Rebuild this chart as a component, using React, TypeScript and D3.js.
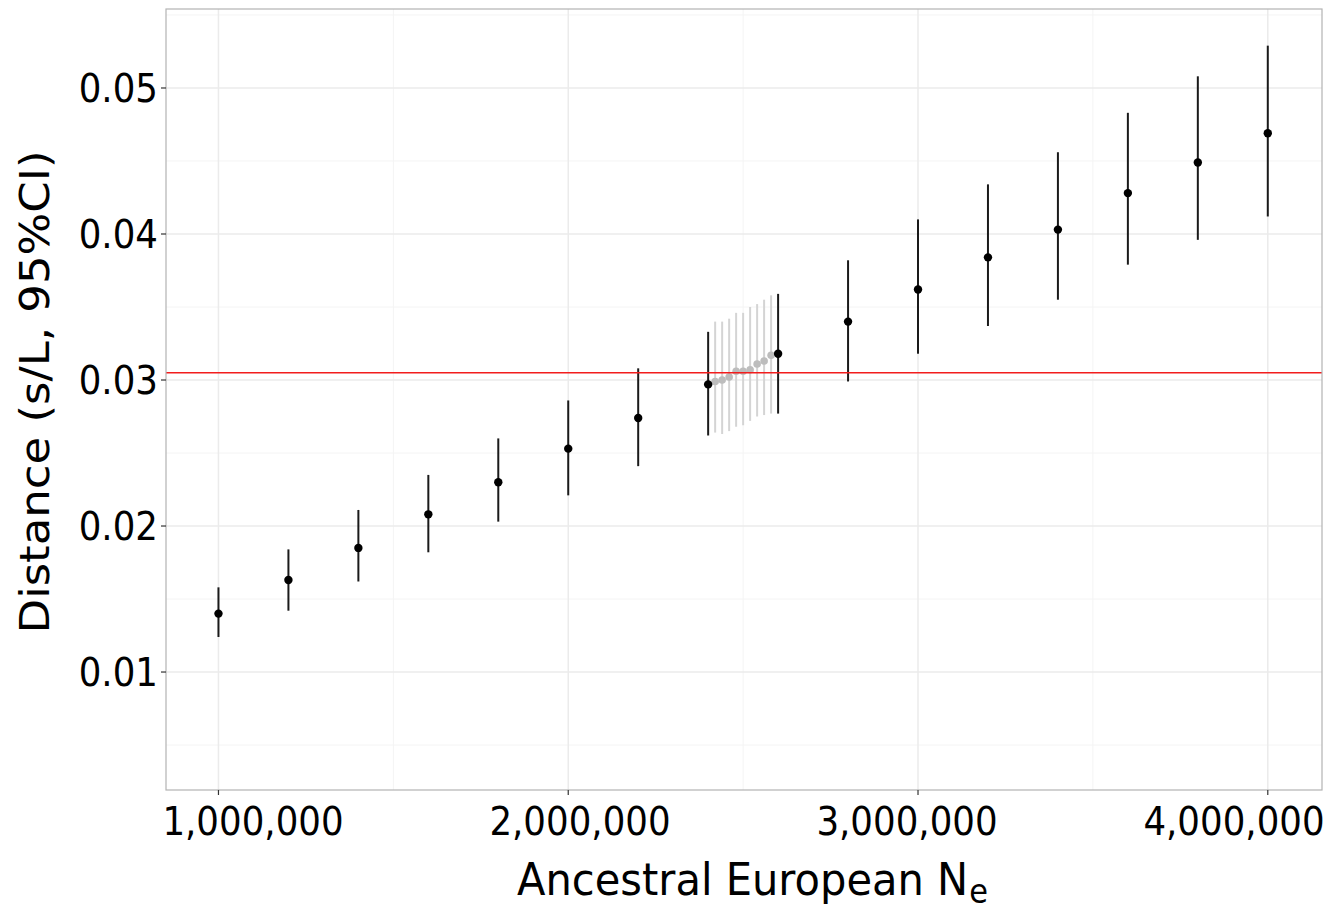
import React, { useEffect, useRef } from "react";
import * as d3 from "d3";

// black estimates (Ne in millions)
const neValues = [1.0, 1.2, 1.4, 1.6, 1.8, 2.0, 2.2, 2.4, 2.6, 2.8, 3.0, 3.2, 3.4, 3.6, 3.8, 4.0];
const distValues = [0.014, 0.0163, 0.0185, 0.0208, 0.023, 0.0253, 0.0274, 0.0297, 0.0318, 0.034, 0.0362, 0.0384, 0.0403, 0.0428, 0.0449, 0.0469];
const lowValues = [0.0124, 0.0142, 0.0162, 0.0182, 0.0203, 0.0221, 0.0241, 0.0262, 0.0277, 0.0299, 0.0318, 0.0337, 0.0355, 0.0379, 0.0396, 0.0412];
const highValues = [0.0158, 0.0184, 0.0211, 0.0235, 0.026, 0.0286, 0.0308, 0.0333, 0.0359, 0.0382, 0.041, 0.0434, 0.0456, 0.0483, 0.0508, 0.0529];

// grey fine grid between 2.4M and 2.6M
const greyNe = [2.42, 2.44, 2.46, 2.48, 2.5, 2.52, 2.54, 2.56, 2.58];
const greyDist = [0.0299, 0.03, 0.0302, 0.0306, 0.0306, 0.0307, 0.0311, 0.0313, 0.0317];
const greyLow = [0.0264, 0.0263, 0.0265, 0.0268, 0.0269, 0.0272, 0.0275, 0.0276, 0.0277];
const greyHigh = [0.034, 0.034, 0.0342, 0.0346, 0.0346, 0.035, 0.0352, 0.0355, 0.0358];

const observed = 0.0305;

const xTicks = [1, 2, 3, 4];
const xTickLabels = ["1,000,000", "2,000,000", "3,000,000", "4,000,000"];
const xMinor = [1.5, 2.5, 3.5];
const yTicks = [0.01, 0.02, 0.03, 0.04, 0.05];
const yTickLabels = ["0.01", "0.02", "0.03", "0.04", "0.05"];
const yMinor = [0.005, 0.015, 0.025, 0.035, 0.045, 0.055];

const FONT = "'DejaVu Sans', sans-serif";
const SQUEEZE = 0.925;

function App() {
  const ref = useRef(null);

  useEffect(() => {
    document.body.style.margin = "0";
    const svg = d3.select(ref.current);
    svg.selectAll("*").remove();

    const panel = { left: 166, right: 1322, top: 9, bottom: 790 };

    const x = d3.scaleLinear().domain([0.85, 4.155]).range([panel.left, panel.right]);
    const xLab = d3.scaleLinear().domain([1, 4]).range([253, 1234]);
    const y = d3.scaleLinear().domain([0.00192, 0.05541]).range([panel.bottom, panel.top]);

    const g = svg.append("g");

    // grid
    g.selectAll("line.xminor")
      .data(xMinor)
      .join("line")
      .attr("x1", (d) => x(d))
      .attr("x2", (d) => x(d))
      .attr("y1", panel.top)
      .attr("y2", panel.bottom)
      .attr("stroke", "#f4f4f4")
      .attr("stroke-width", 1);
    g.selectAll("line.yminor")
      .data(yMinor)
      .join("line")
      .attr("x1", panel.left)
      .attr("x2", panel.right)
      .attr("y1", (d) => y(d))
      .attr("y2", (d) => y(d))
      .attr("stroke", "#f4f4f4")
      .attr("stroke-width", 1);
    g.selectAll("line.xmajor")
      .data(xTicks)
      .join("line")
      .attr("x1", (d) => x(d))
      .attr("x2", (d) => x(d))
      .attr("y1", panel.top)
      .attr("y2", panel.bottom)
      .attr("stroke", "#ebebeb")
      .attr("stroke-width", 1.5);
    g.selectAll("line.ymajor")
      .data(yTicks)
      .join("line")
      .attr("x1", panel.left)
      .attr("x2", panel.right)
      .attr("y1", (d) => y(d))
      .attr("y2", (d) => y(d))
      .attr("stroke", "#ebebeb")
      .attr("stroke-width", 1.5);

    // grey error bars + points
    g.append("g")
      .selectAll("line")
      .data(greyNe)
      .join("line")
      .attr("x1", (d) => x(d))
      .attr("x2", (d) => x(d))
      .attr("y1", (d, i) => y(greyLow[i]))
      .attr("y2", (d, i) => y(greyHigh[i]))
      .attr("stroke", "#d4d4d4")
      .attr("stroke-width", 2);
    g.append("g")
      .selectAll("circle")
      .data(greyNe)
      .join("circle")
      .attr("cx", (d) => x(d))
      .attr("cy", (d, i) => y(greyDist[i]))
      .attr("r", 3.8)
      .attr("fill", "#bdbdbd");

    // black error bars + points
    g.append("g")
      .selectAll("line")
      .data(neValues)
      .join("line")
      .attr("x1", (d) => x(d))
      .attr("x2", (d) => x(d))
      .attr("y1", (d, i) => y(lowValues[i]))
      .attr("y2", (d, i) => y(highValues[i]))
      .attr("stroke", "#1a1a1a")
      .attr("stroke-width", 2);
    g.append("g")
      .selectAll("circle")
      .data(neValues)
      .join("circle")
      .attr("cx", (d) => x(d))
      .attr("cy", (d, i) => y(distValues[i]))
      .attr("r", 4.2)
      .attr("fill", "#000");

    // observed line
    g.append("line")
      .attr("x1", panel.left)
      .attr("x2", panel.right)
      .attr("y1", y(observed))
      .attr("y2", y(observed))
      .attr("stroke", "#f21d1d")
      .attr("stroke-width", 1.6);

    // panel border
    g.append("rect")
      .attr("x", panel.left)
      .attr("y", panel.top)
      .attr("width", panel.right - panel.left)
      .attr("height", panel.bottom - panel.top)
      .attr("fill", "none")
      .attr("stroke", "#b3b3b3")
      .attr("stroke-width", 1.2);

    // ticks
    g.selectAll("line.xt")
      .data(xTicks)
      .join("line")
      .attr("x1", (d) => x(d))
      .attr("x2", (d) => x(d))
      .attr("y1", panel.bottom)
      .attr("y2", panel.bottom + 5)
      .attr("stroke", "#333")
      .attr("stroke-width", 1.2);
    g.selectAll("line.yt")
      .data(yTicks)
      .join("line")
      .attr("x1", panel.left - 5)
      .attr("x2", panel.left)
      .attr("y1", (d) => y(d))
      .attr("y2", (d) => y(d))
      .attr("stroke", "#333")
      .attr("stroke-width", 1.2);

    // tick labels
    g.selectAll("text.xl")
      .data(xTicks)
      .join("text")
      .attr("transform", (d) => `translate(${xLab(d)},835) scale(${SQUEEZE},1)`)
      .attr("text-anchor", "middle")
      .attr("font-family", FONT)
      .attr("font-size", 38.5)
      .attr("fill", "#000")
      .text((d, i) => xTickLabels[i]);
    g.selectAll("text.yl")
      .data(yTicks)
      .join("text")
      .attr("transform", (d) => `translate(158,${y(d)}) scale(${SQUEEZE},1)`)
      .attr("text-anchor", "end")
      .attr("dy", "0.36em")
      .attr("font-family", FONT)
      .attr("font-size", 38.5)
      .attr("fill", "#000")
      .text((d, i) => yTickLabels[i]);

    // x title, subscript as its own text placed after the main part
    const titleStart = 517;
    const xt = g
      .append("text")
      .attr("transform", `translate(${titleStart},895) scale(${SQUEEZE},1)`)
      .attr("font-family", FONT)
      .attr("font-size", 45)
      .attr("fill", "#000")
      .text("Ancestral European N");
    const len = (xt.node() as SVGTextElement).getComputedTextLength() * SQUEEZE;
    g.append("text")
      .attr("transform", `translate(${titleStart + len + 1},903) scale(${SQUEEZE},1)`)
      .attr("font-family", FONT)
      .attr("font-size", 33)
      .attr("fill", "#000")
      .text("e");

    g.append("text")
      .attr("transform", `translate(49,392) scale(${SQUEEZE},1) rotate(-90)`)
      .attr("text-anchor", "middle")
      .attr("font-family", FONT)
      .attr("font-size", 45)
      .attr("fill", "#000")
      .text("Distance (s/L, 95%CI)");
  }, []);

  return <svg ref={ref} width={1344} height={906} style={{ display: "block", background: "#fff" }} />;
}

export default App;
